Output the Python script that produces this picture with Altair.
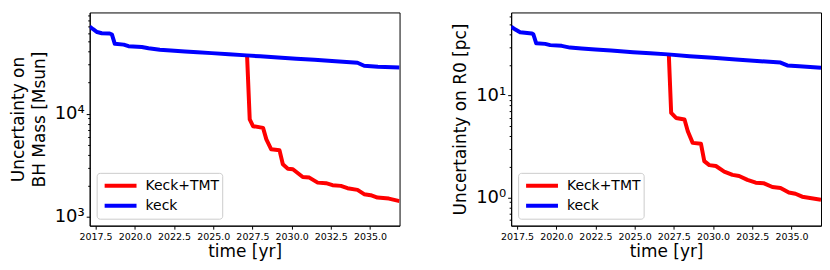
import altair as alt
import pandas as pd

# ---------------- data ----------------
series_names = ["Keck+TMT", "keck"]
series_colors = ["#ff0000", "#0000ff"]
x_ticks = [2017.5, 2020.0, 2022.5, 2025.0, 2027.5, 2030.0, 2032.5, 2035.0]
x_domain = [2017.13, 2036.88]

# Left panel: BH mass uncertainty [Msun]
mass_keck_t = [2017.13, 2017.35, 2017.6, 2017.9, 2018.4, 2018.55, 2018.73, 2019.3, 2019.6,
               2020.45, 2020.88, 2021.6, 2022.3, 2023.2, 2024.0, 2024.9, 2026.0, 2027.12,
               2028.0, 2029.13, 2030.3, 2031.45, 2032.8, 2034.2, 2034.62, 2035.5, 2036.88]
mass_keck_v = [70000, 66000, 62000, 60400, 60000, 58600, 47600, 46800, 45200,
               44300, 43200, 41800, 41000, 40200, 39400, 38700, 37700, 36800,
               36000, 35100, 34200, 33400, 32200, 31200, 29200, 28600, 28000]
mass_tmt_t = [2027.16, 2027.33, 2027.54, 2028.18, 2028.39, 2028.7, 2029.23, 2029.44, 2029.76,
              2030.08, 2030.71, 2031.13, 2031.66, 2032.19, 2032.61, 2033.14, 2033.56, 2034.2,
              2034.62, 2035.04, 2035.47, 2036.2, 2036.88]
mass_tmt_v = [36800, 8800, 7570, 7290, 5640, 4510, 4410, 3230, 2930,
              2890, 2430, 2400, 2145, 2117, 2025, 1994, 1894, 1823,
              1657, 1621, 1536, 1502, 1420]
mass_domain = [820, 96000]
mass_ticks = [1000, 2000, 3000, 4000, 5000, 6000, 7000, 8000, 9000,
              10000, 20000, 30000, 40000, 50000, 60000, 70000, 80000, 90000]
mass_major = [1000, 10000]

# Right panel: R0 uncertainty [pc]
r0_keck_t = [2017.13, 2017.4, 2017.7, 2018.45, 2018.55, 2018.73, 2019.3, 2019.62, 2020.35,
             2020.88, 2021.62, 2022.5, 2023.5, 2024.9, 2026.0, 2027.12, 2028.5, 2030.0,
             2031.45, 2032.8, 2034.3, 2034.73, 2035.5, 2036.88]
r0_keck_v = [47.5, 44.5, 41.8, 40.8, 39.8, 32.6, 32.2, 31.3, 30.8,
             29.6, 29.0, 28.4, 27.7, 26.7, 26.0, 25.4, 24.4, 23.5,
             22.6, 21.9, 21.1, 19.8, 19.4, 18.8]
r0_tmt_t = [2027.18, 2027.33, 2027.64, 2028.18, 2028.39, 2028.7, 2029.23, 2029.44, 2029.76,
            2030.18, 2030.71, 2031.24, 2031.66, 2032.19, 2032.72, 2033.25, 2033.78, 2034.3,
            2034.83, 2035.25, 2035.68, 2036.88]
r0_tmt_v = [25.3, 6.76, 6.04, 5.83, 4.48, 3.44, 3.37, 2.28, 2.08,
            2.04, 1.80, 1.67, 1.63, 1.49, 1.40, 1.38, 1.27, 1.24,
            1.12, 1.09, 1.02, 0.95]
r0_domain = [0.53, 65.5]
r0_ticks = [0.6, 0.7, 0.8, 0.9, 1, 2, 3, 4, 5, 6, 7, 8, 9, 10, 20, 30, 40, 50, 60]
r0_major = [1, 10]

FONT = "DejaVu Sans"
W, H = 311, 214


def frame(t, v, name):
    return pd.DataFrame({"t": t, "v": v, "series": name})


def panel(tmt_t, tmt_v, keck_t, keck_v, ydomain, yticks, major, label_expr, ytitle):
    is_major = " || ".join(f"datum.value == {m}" for m in major)
    color = alt.Color(
        "series:N",
        scale=alt.Scale(domain=series_names, range=series_colors),
        legend=alt.Legend(
            title=None, orient="none", legendX=7, legendY=161, direction="vertical",
            symbolType="stroke", symbolSize=1024, symbolStrokeWidth=4,
            labelFontSize=14, labelFont=FONT, labelColor="black", labelOffset=7,
            clipHeight=20, rowPadding=0, padding=3, symbolOffset=3,
            fillColor="white", strokeColor="#cccccc", cornerRadius=3,
        ),
    )
    x = alt.X(
        "t:Q",
        scale=alt.Scale(domain=x_domain, nice=False, zero=False),
        axis=alt.Axis(values=x_ticks, format=".1f", title="time [yr]",
                      labelFontSize=9.5, titleFontSize=17, labelPadding=2,
                      titlePadding=3, labelOverlap=False, labelFlush=False,
                      grid=False, titleFontWeight="normal", tickSize=3.5),
    )
    y = alt.Y(
        "v:Q",
        scale=alt.Scale(type="log", domain=ydomain, nice=False),
        axis=alt.Axis(values=yticks, labelExpr=label_expr, title=ytitle,
                      labelFontSize={"condition": {"test": is_major, "value": 18}, "value": 1},
                      tickSize={"condition": {"test": is_major, "value": 3.5}, "value": 2},
                      titleFontSize=17, titleLineHeight=21,
                      labelPadding=2, titlePadding=6, labelOverlap=False,
                      grid=False, titleFontWeight="normal"),
    )
    red = alt.Chart(frame(tmt_t, tmt_v, series_names[0])).mark_line(
        strokeWidth=4, clip=True, strokeJoin="round").encode(x=x, y=y, color=color)
    blue = alt.Chart(frame(keck_t, keck_v, series_names[1])).mark_line(
        strokeWidth=4, clip=True, strokeJoin="round").encode(x=x, y=y, color=color)
    return alt.layer(red, blue).properties(width=W, height=H)


left = panel(mass_tmt_t, mass_tmt_v, mass_keck_t, mass_keck_v, mass_domain, mass_ticks,
             mass_major,
             "datum.value == 1000 ? '10³' : datum.value == 10000 ? '10⁴' : ''",
             ["Uncertainty on", "BH Mass [Msun]"])
right = panel(r0_tmt_t, r0_tmt_v, r0_keck_t, r0_keck_v, r0_domain, r0_ticks,
              r0_major,
              "datum.value == 1 ? '10⁰' : datum.value == 10 ? '10¹' : ''",
              "Uncertainty on R0 [pc]")

chart = (
    alt.hconcat(left, right, spacing=50)
    .resolve_scale(color="independent")
    .properties(padding={"left": 0, "top": 3, "right": 0, "bottom": 0},
                background="white")
    .configure_view(stroke="black", strokeWidth=1)
    .configure_axis(domainColor="black", tickColor="black", labelColor="black",
                    titleColor="black", labelFont=FONT, titleFont=FONT, grid=False,
                    titleFontWeight="normal", domainWidth=1, tickWidth=1)
)

chart.save("out.html", embed_options={"renderer": "svg", "actions": False})
